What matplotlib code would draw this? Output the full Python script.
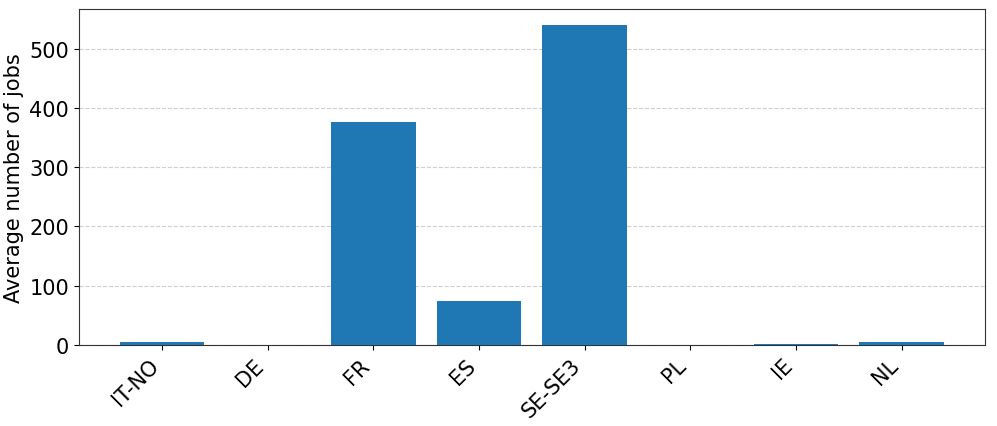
#!/usr/bin/env python3

import numpy as np
import matplotlib
matplotlib.use('Agg')
import matplotlib.pyplot as plt

regions = ["IT-NO", "DE", "FR", "ES", "SE-SE3", "PL", "IE", "NL"]
avg_jobs = [4, 0, 376, 74, 540, 0, 2, 5]

#------------------------------------------------------------
if __name__ == "__main__":
    fig = plt.figure(figsize=(9.97, 4.27), dpi=100)
    ax = plt.subplot(1, 1, 1)

    x = np.arange(len(regions))
    ax.bar(x, avg_jobs, color='#1f77b4', zorder=3)
    ax.grid(axis='y', linestyle='--', alpha=0.6, zorder=0)

    ax.set_xticks(x)
    ax.set_xticklabels(regions, rotation=45, ha='right', fontsize=15)
    ax.tick_params(axis='y', labelsize=15)
    ax.set_ylabel("Average number of jobs", fontsize=15)
    for s in ax.spines.values():
        s.set_edgecolor('#333333')

    plt.subplots_adjust(left=0.079, right=0.988, top=0.977, bottom=0.19)
    plt.savefig("out.png", dpi=100)
